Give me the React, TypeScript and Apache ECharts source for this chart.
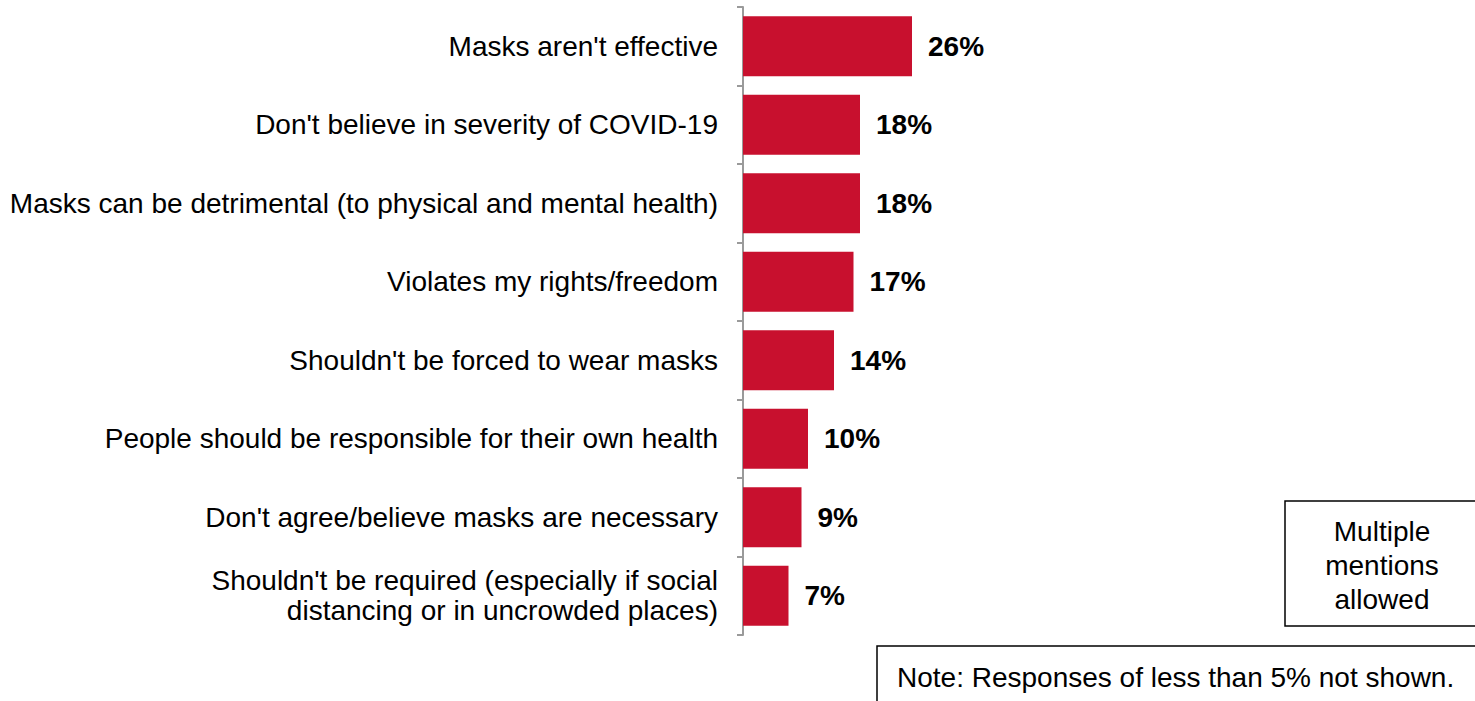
import React, { useEffect, useRef } from "react";
import * as echarts from "echarts";

const categories = [
  "Masks aren't effective",
  "Don't believe in severity of COVID-19",
  "Masks can be detrimental (to physical and mental health)",
  "Violates my rights/freedom",
  "Shouldn't be forced to wear masks",
  "People should be responsible for their own health",
  "Don't agree/believe masks are necessary",
  "Shouldn't be required (especially if social\ndistancing or in uncrowded places)",
];
const values = [26, 18, 18, 17, 14, 10, 9, 7];
const boxText = "Multiple\nmentions\nallowed";
const noteText = "Note: Responses of less than 5% not shown.";

export default function App() {
  const ref = useRef<HTMLDivElement>(null);
  useEffect(() => {
    const chart = echarts.init(ref.current!, null, { renderer: "svg" });
    const font = "Liberation Sans, Arial, sans-serif";
    chart.setOption({
      animation: false,
      grid: { left: 743, top: 7, height: 628, right: 82, containLabel: false },
      xAxis: { type: "value", min: 0, max: 100, show: false },
      yAxis: {
        type: "category",
        inverse: true,
        data: categories,
        axisLine: { show: true, lineStyle: { color: "#9a9a9a", width: 2 } },
        axisTick: { show: true, length: 6, lineStyle: { color: "#9a9a9a", width: 2 } },
        axisLabel: {
          color: "#000",
          fontSize: 28,
          fontFamily: font,
          margin: 25,
          lineHeight: 30,
          align: "right",
        },
      },
      series: [
        {
          type: "bar",
          data: values,
          barCategoryGap: "23.5%",
          itemStyle: { color: "#C8102E" },
          label: {
            show: true,
            position: "right",
            distance: 16,
            formatter: "{c}%",
            color: "#000",
            fontWeight: "bold",
            fontSize: 28,
            fontFamily: font,
          },
        },
      ],
      graphic: [
        {
          type: "rect",
          shape: { x: 1285, y: 501, width: 200, height: 125 },
          style: { fill: "#fff", stroke: "#000", lineWidth: 1.5 },
        },
        {
          type: "text",
          x: 1382,
          y: 565,
          style: {
            text: boxText,
            fill: "#000",
            fontSize: 28,
            fontFamily: font,
            lineHeight: 34,
            align: "center",
            verticalAlign: "middle",
          },
        },
        {
          type: "rect",
          shape: { x: 877, y: 646, width: 620, height: 80 },
          style: { fill: "#fff", stroke: "#000", lineWidth: 1.5 },
        },
        {
          type: "text",
          x: 897,
          y: 677,
          style: {
            text: noteText,
            fill: "#000",
            fontSize: 28,
            fontFamily: font,
            align: "left",
            verticalAlign: "middle",
          },
        },
      ],
    });
    return () => chart.dispose();
  }, []);
  return (
    <div
      ref={ref}
      style={{ position: "fixed", left: 0, top: 0, width: 1475, height: 701, background: "#fff" }}
    />
  );
}
